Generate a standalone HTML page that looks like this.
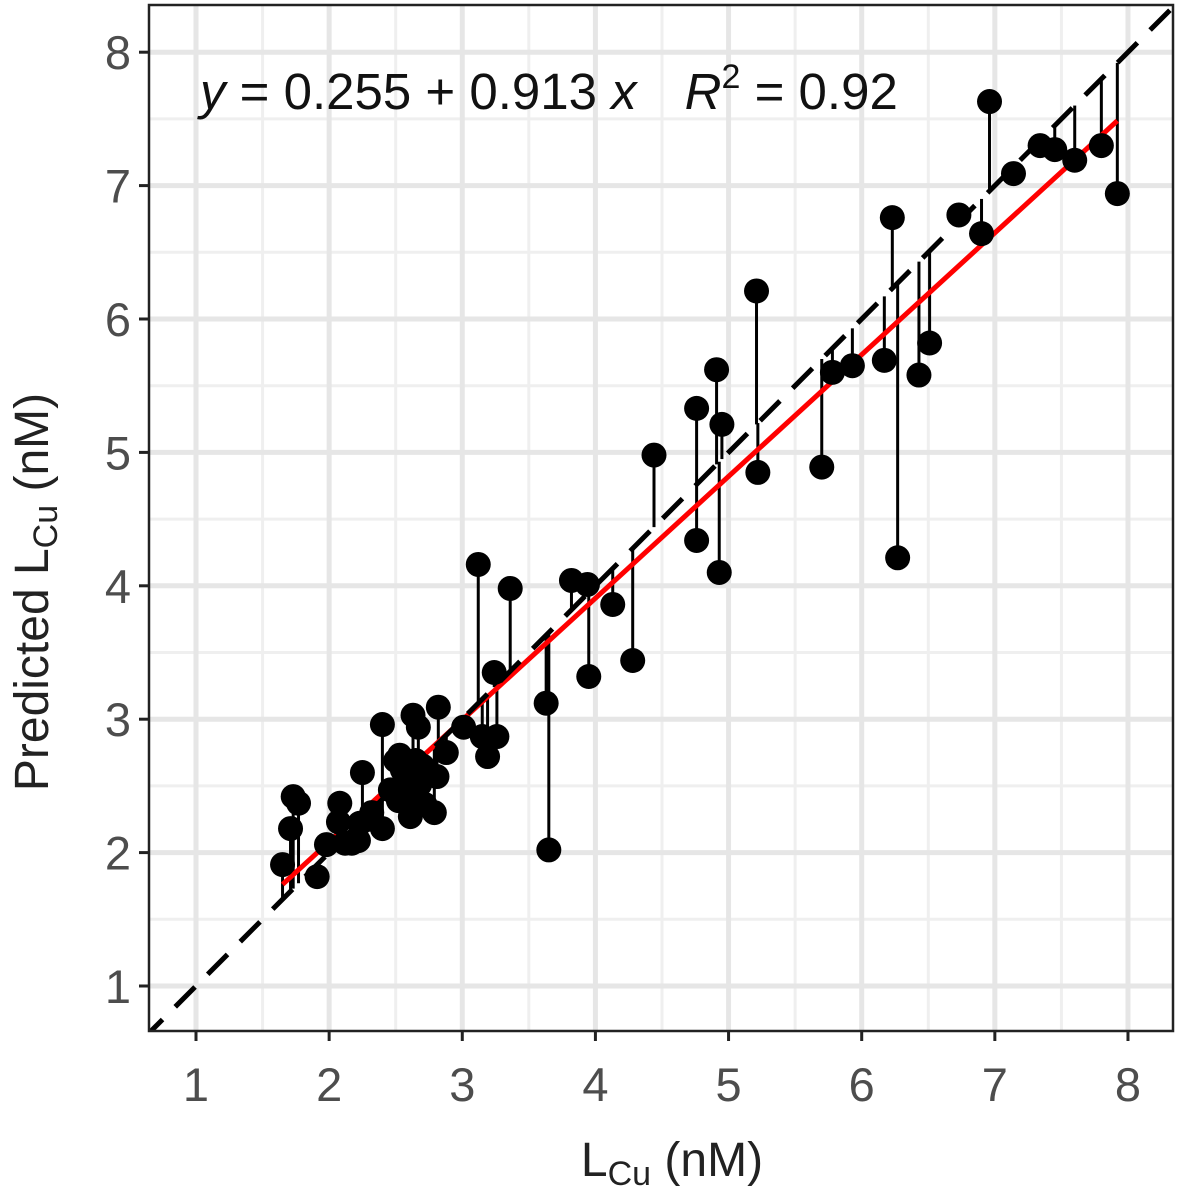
<!DOCTYPE html>
<html><head><meta charset="utf-8"><style>
html,body{margin:0;padding:0;background:#fff}
svg{display:block;font-family:"Liberation Sans",Arial,sans-serif}
</style></head><body>
<svg id="chart" width="1181" height="1189" viewBox="0 0 1181 1189">
<defs><clipPath id="pc"><rect x="149" y="5" width="1024" height="1026"/></clipPath></defs>
<g id="grid"></g>
<g id="plot" clip-path="url(#pc)">
<g id="segs"></g>
<g id="lines"></g>
<g id="pts"></g>
</g>
<rect x="149" y="5" width="1024" height="1026" fill="none" stroke="#222" stroke-width="2.5"/>
<g id="axes"></g>
<text x="200" y="109" font-size="51" fill="#111"><tspan font-style="italic">y</tspan> = 0.255 + 0.913 <tspan font-style="italic">x</tspan><tspan font-style="italic" dx="48">R</tspan><tspan font-size="34" dy="-21">2</tspan><tspan dy="21"> = 0.92</tspan></text>
<text x="672" y="1176" font-size="48" fill="#222" text-anchor="middle">L<tspan font-size="34" dy="9">Cu</tspan><tspan dy="-9"> (nM)</tspan></text>
<text transform="translate(48,592) rotate(-90)" font-size="48" fill="#222" text-anchor="middle">Predicted L<tspan font-size="34" dy="9">Cu</tspan><tspan dy="-9"> (nM)</tspan></text>
</svg>
<script>
const ticks=[1,2,3,4,5,6,7,8];
const obsX=[1.65,1.71,1.73,1.77,1.91,1.98,2.08,2.07,2.12,2.17,2.23,2.25,2.22,2.32,2.40,2.40,2.46,2.50,2.53,2.57,2.63,2.67,2.61,2.65,2.68,2.79,2.81,2.82,2.88,2.52,2.72,3.01,3.12,3.15,3.19,3.24,3.26,3.36,3.63,3.65,3.82,3.94,3.95,4.13,4.28,4.44,4.76,4.76,4.91,4.93,4.95,5.21,5.22,5.70,5.78,5.93,6.17,6.23,6.27,6.43,6.51,6.73,6.90,6.96,7.14,7.34,7.45,7.60,7.80,7.92,2.30,2.55,2.60,2.70];
const predY=[1.91,2.18,2.42,2.37,1.82,2.06,2.37,2.23,2.07,2.07,2.22,2.60,2.09,2.30,2.18,2.96,2.47,2.69,2.73,2.54,3.03,2.94,2.27,2.69,2.51,2.30,2.57,3.09,2.75,2.39,2.36,2.94,4.16,2.87,2.72,3.35,2.87,3.98,3.12,2.02,4.04,4.01,3.32,3.86,3.44,4.98,5.33,4.34,5.62,4.10,5.21,6.21,4.85,4.89,5.60,5.65,5.69,6.76,4.21,5.58,5.82,6.78,6.64,7.63,7.09,7.30,7.27,7.19,7.30,6.94,2.25,2.62,2.45,2.65];
const fitA=0.255, fitB=0.913;
const NS="http://www.w3.org/2000/svg";
const L=149,R=1173,T=5,B=1031;
const X=v=>196+(v-1)*133.14;
const Y=v=>986-(v-1)*133.4;
function mk(tag,attrs,parent){const e=document.createElementNS(NS,tag);for(const k in attrs)e.setAttribute(k,attrs[k]);parent.appendChild(e);return e;}
const grid=document.getElementById('grid'),axes=document.getElementById('axes');
mk('rect',{x:L,y:T,width:R-L,height:B-T,fill:'#fff'},grid);
for(let v=0.5;v<=8.5;v+=1){
 if(X(v)>L&&X(v)<R){const g=mk('line',{x1:X(v),x2:X(v),y1:T,y2:B,stroke:'#efefef','stroke-width':3},grid);
 
 }
 if(Y(v)>T&&Y(v)<B){const g=mk('line',{y1:Y(v),y2:Y(v),x1:L,x2:R,stroke:'#efefef','stroke-width':3},grid);
 
 }
}
ticks.forEach(t=>{
 let g=mk('line',{x1:X(t),x2:X(t),y1:T,y2:B,stroke:'#e6e6e6','stroke-width':5},grid);
 
 
 g=mk('line',{y1:Y(t),y2:Y(t),x1:L,x2:R,stroke:'#e6e6e6','stroke-width':5},grid);
 
 
 let k=mk('line',{x1:X(t),x2:X(t),y1:B,y2:B+10,stroke:'#222','stroke-width':3},axes);
 
 
 k=mk('line',{x1:L-10,x2:L,y1:Y(t),y2:Y(t),stroke:'#222','stroke-width':3},axes);
 
 
 let tx=mk('text',{x:X(t),y:B+70,'font-size':47,fill:'#4d4d4d','text-anchor':'middle'},axes);tx.textContent=t;
 
 
 tx=mk('text',{x:L-18,y:Y(t)+17,'font-size':47,fill:'#4d4d4d','text-anchor':'end'},axes);tx.textContent=t;
 
 
});
const lines=document.getElementById('lines');
const x0=Math.min(...obsX),x1=Math.max(...obsX);
let rl=mk('line',{x1:X(x0),y1:Y(fitA+fitB*x0),x2:X(x1),y2:Y(fitA+fitB*x1),stroke:'#ff0000','stroke-width':5},lines);


const segs=document.getElementById('segs'),pts=document.getElementById('pts');
obsX.forEach((x,i)=>{
 const s=mk('line',{x1:X(x),x2:X(x),y1:Y(predY[i]),y2:Y(x),stroke:'#000','stroke-width':3},segs);
 
 
});
let il=mk('line',{x1:X(0.6),y1:Y(0.6),x2:X(8.4),y2:Y(8.4),stroke:'#000','stroke-width':5,'stroke-dasharray':'28 18'},lines);


obsX.forEach((x,i)=>{
 const c=mk('circle',{cx:X(x),cy:Y(predY[i]),r:12.5,fill:'#000'},pts);
 
 
});
</script>
</body></html>
